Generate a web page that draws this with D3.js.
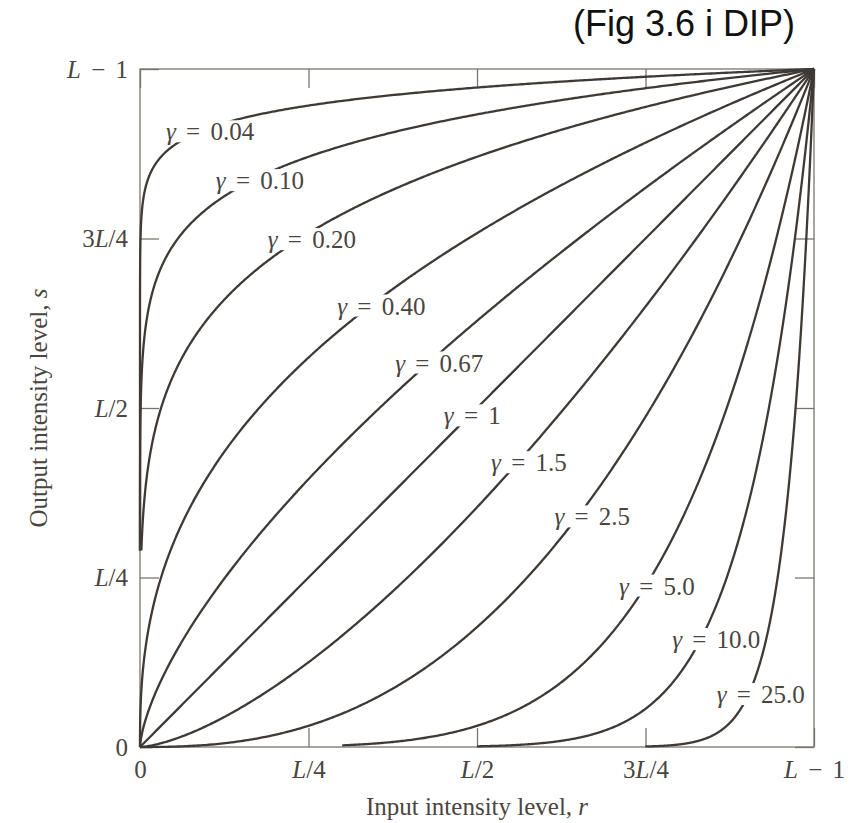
<!DOCTYPE html>
<html>
<head>
<meta charset="utf-8">
<script src="https://cdn.jsdelivr.net/npm/d3@7"></script>
<style>
    body { margin: 0; background: #fff; }
    svg text { font-family: "Liberation Serif", "Times New Roman", serif; fill: #4a4541; }
</style>
</head>
<body>
<svg id="chart" width="856" height="823"></svg>
<script>
/* Data */
/* **** */

// gamma of each curve s = (L-1) * (r/(L-1))^gamma, and the text printed next to it
var gammas = [0.04, 0.10, 0.20, 0.40, 0.67, 1, 1.5, 2.5, 5.0, 10.0, 25.0];
var gammaLabels = ['0.04', '0.10', '0.20', '0.40', '0.67', '1', '1.5', '2.5', '5.0', '10.0', '25.0'];

// where a curve leaves its axis (s for gamma < 1, r for gamma > 1), null = from the origin
var curveStarts = [0.29, 0.29, 0.29, null, null, null, null, null, 0.30, 0.50, 0.75];

// centre of each gamma label, in units of L-1
var labelR = [0.104, 0.178, 0.255, 0.358, 0.444, 0.493, 0.577, 0.671, 0.767, 0.855, 0.921];
var labelS = [0.907, 0.835, 0.748, 0.650, 0.566, 0.488, 0.419, 0.339, 0.237, 0.158, 0.077];

var tickValues = [0, 0.25, 0.5, 0.75, 1];
var tickLabels = ['0', 'L/4', 'L/2', '3L/4', 'L \u2212 1'];

var title = '(Fig 3.6 i DIP)';
var xTitle = 'Input intensity level, ';
var yTitle = 'Output intensity level, ';


/* Layout */
/* ****** */
var svg = d3.select('#chart');
var margin = { top: 69, right: 42, bottom: 76, left: 140 };
var width = 856 - margin.left - margin.right;
var height = 823 - margin.top - margin.bottom;
var tickLen = 19;
var curveColor = '#3f3a36';
var frameColor = '#7a746e';

var x = d3.scaleLinear().domain([0, 1]).range([0, width]);
var y = d3.scaleLinear().domain([0, 1]).range([height, 0]);

var plot = svg
    .append('g')
    .attr('transform', 'translate(' + margin.left + ',' + margin.top + ')');

// writes a string into a <text>, with L, gamma, r and s set in italic
var mathText = function(sel, str) {
    sel.text(null);
    str.split(/(L|γ|r$|s$)/).forEach(function(part) {
        if (part === '') return;
        sel.append('tspan')
            .style('font-style', /^(L|γ|r|s)$/.test(part) ? 'italic' : 'normal')
            .text(part);
    });
};

// samples one gamma curve densely in both r and s, returns [r, s] pairs
var curvePoints = function(g, start) {
    var rLo = 0;
    if (start !== null) {
        rLo = g < 1 ? Math.pow(start, 1 / g) : start;
    }
    var sLo = Math.pow(rLo, g);
    var n = 300;
    var pts = [];
    for (var i = 0; i <= n; i++) {
        var r = rLo + (1 - rLo) * i / n;
        pts.push([r, Math.pow(r, g)]);
        var s = sLo + (1 - sLo) * i / n;
        pts.push([Math.pow(s, 1 / g), s]);
    }
    pts.sort(function(a, b) { return a[0] - b[0] || a[1] - b[1]; });
    return pts;
};


/* Frame and axes */
/* ************** */
plot.append('rect')
    .attr('width', width)
    .attr('height', height)
    .attr('fill', 'none')
    .attr('stroke', frameColor)
    .attr('stroke-width', 1.3);

var styleAxis = function(g, labelled) {
    g.select('.domain').remove();
    g.selectAll('.tick line')
        .attr('stroke', frameColor)
        .attr('stroke-width', 1.3);
    if (!labelled) {
        g.selectAll('.tick text').remove();
        return;
    }
    g.selectAll('.tick text')
        .attr('fill', null)
        .style('font-size', '25px')
        .style('word-spacing', '4px')
        .each(function(d, i) { mathText(d3.select(this), tickLabels[i]); });
};

plot.append('g')
    .attr('transform', 'translate(0,' + height + ')')
    .call(d3.axisBottom(x)
        .tickValues(tickValues)
        .tickSizeInner(-tickLen)
        .tickSizeOuter(0)
        .tickPadding(13)
        .tickFormat(function(d, i) { return tickLabels[i]; }))
    .call(styleAxis, true);

plot.append('g')
    .call(d3.axisLeft(y)
        .tickValues(tickValues)
        .tickSizeInner(-tickLen)
        .tickSizeOuter(0)
        .tickPadding(12)
        .tickFormat(function(d, i) { return tickLabels[i]; }))
    .call(styleAxis, true);

plot.append('g')
    .call(d3.axisTop(x)
        .tickValues(tickValues)
        .tickSizeInner(-tickLen)
        .tickSizeOuter(0))
    .call(styleAxis, false);

plot.append('g')
    .attr('transform', 'translate(' + width + ',0)')
    .call(d3.axisRight(y)
        .tickValues(tickValues)
        .tickSizeInner(-tickLen)
        .tickSizeOuter(0))
    .call(styleAxis, false);


/* Curves */
/* ****** */
var line = d3.line()
    .x(function(d) { return x(d[0]); })
    .y(function(d) { return y(d[1]); });

plot.append('g')
    .attr('class', 'curves')
    .selectAll('path')
    .data(gammas)
    .enter()
    .append('path')
    .attr('d', function(g, i) { return line(curvePoints(g, curveStarts[i])); })
    .attr('fill', 'none')
    .attr('stroke', curveColor)
    .attr('stroke-width', 2.3)
    .attr('stroke-linejoin', 'round');


/* Gamma labels */
/* ************ */
plot.append('g')
    .attr('class', 'labels')
    .selectAll('g')
    .data(gammas)
    .enter()
    .append('g')
    .attr('transform', function(g, i) {
        return 'translate(' + x(labelR[i]) + ',' + y(labelS[i]) + ')';
    })
    .each(function(g, i) {
        var sel = d3.select(this);
        var bg = sel.append('rect').attr('fill', '#fff');
        var txt = sel.append('text')
            .attr('text-anchor', 'middle')
            .attr('dy', '0.33em')
            .style('font-size', '25px')
            .style('word-spacing', '4px');
        mathText(txt, 'γ = ' + gammaLabels[i]);
        var bb = txt.node().getBBox();
        bg.attr('x', bb.x - 1)
            .attr('y', bb.y + 2)
            .attr('width', bb.width + 2)
            .attr('height', bb.height - 5);
    });


/* Titles */
/* ****** */
var xt = svg.append('text')
    .attr('x', margin.left + width / 2)
    .attr('y', 815)
    .attr('text-anchor', 'middle')
    .style('font-size', '25px');
mathText(xt, xTitle + 'r');

var yt = svg.append('text')
    .attr('transform', 'translate(47,' + (margin.top + height / 2) + ') rotate(-90)')
    .attr('text-anchor', 'middle')
    .style('font-size', '25px');
mathText(yt, yTitle + 's');

svg.append('text')
    .attr('x', 573)
    .attr('y', 36)
    .style('font-family', '"Liberation Sans", Arial, sans-serif')
    .style('font-size', '36px')
    .style('fill', '#111')
    .text(title);
</script>
</body>
</html>
